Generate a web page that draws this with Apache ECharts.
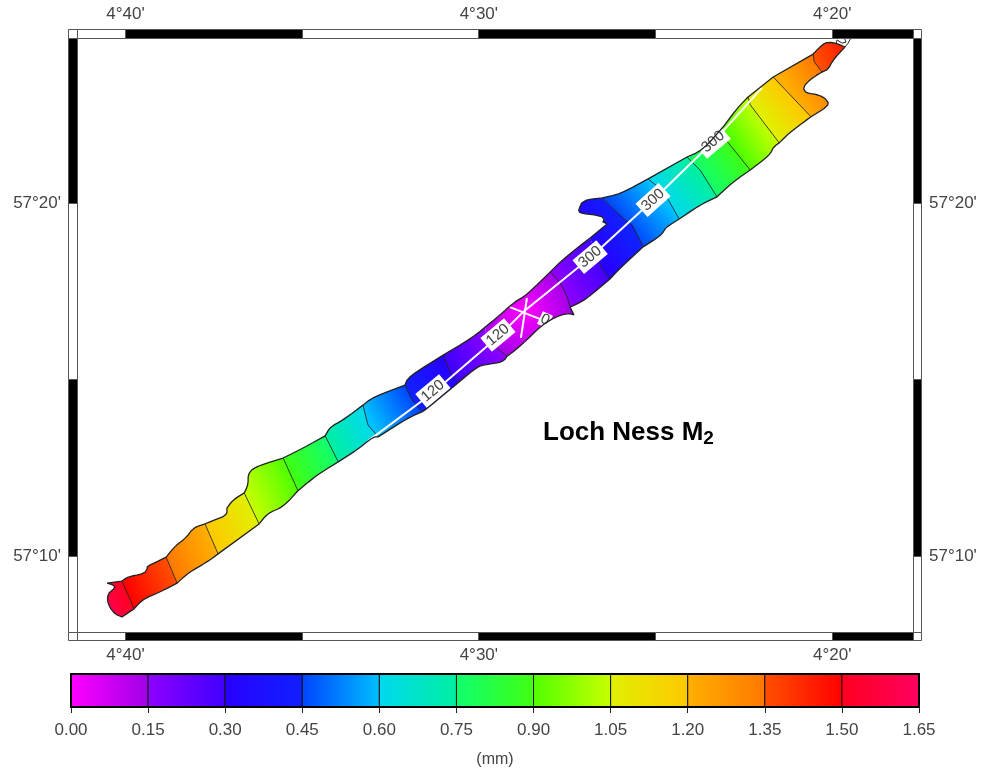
<!DOCTYPE html>
<html>
<head>
<meta charset="utf-8">
<style>html,body{margin:0;padding:0;background:#fff}#c{width:983px;height:774px}</style>
<script src="https://cdn.jsdelivr.net/npm/echarts@6/dist/echarts.min.js"></script>
</head>
<body>
<div id="c"></div>
<script>
// Longitude: minutes west of 4 deg + 240; latitude: minutes north of 57 deg
const lonRange = [257.714, 281.373];
const latRange = [7.844, 24.696];
const lonBreaks = [281.373, 280, 275, 270, 265, 260, 257.714];
const latBreaks = [7.844, 10, 15, 20, 24.696];
const lonTicks = [280, 270, 260];
const latTicks = [10, 20];

// Shore of the loch, south-west tip to north-east tip
const northBank = [[280.10,8.27],[280.35,8.38],[280.52,8.70],[280.49,8.95],[280.35,9.04],[280.27,9.15],[280.52,9.23],[280.10,9.29],[279.93,9.41],[279.53,9.49],[279.39,9.58],[279.39,9.72],[279.28,9.75],[278.85,9.97],[278.60,10.28],[278.26,10.54],[278.09,10.80],[277.75,10.91],[277.41,11.05],[277.13,11.16],[277.13,11.36],[276.96,11.59],[276.64,11.79],[276.53,12.02],[276.53,12.36],[276.28,12.55],[275.54,12.78],[274.98,13.06],[274.35,13.41],[274.21,13.66],[273.84,13.86],[273.28,14.28],[272.99,14.51],[272.09,14.85],[272.00,15.08],[271.01,15.70],[270.16,16.21],[269.82,16.50],[269.40,16.84],[269.03,17.18],[268.64,17.41],[267.98,18.06],[267.70,18.34],[267.22,18.74],[266.85,19.02],[266.37,19.42],[266.49,19.48],[266.43,19.59],[266.65,19.67],[267.19,19.73],[267.16,19.87],[267.05,20.10],[266.51,20.16],[266.00,20.27],[265.21,20.70],[264.11,21.32],[263.66,21.52],[263.09,22.17],[262.66,22.74],[262.38,23.02],[261.67,23.59],[260.54,24.24],[260.29,24.50],[260.15,24.58],[259.89,24.55],[259.64,24.44]];
const southBank = [[280.10,8.27],[279.76,8.50],[279.50,8.78],[279.02,8.98],[278.54,9.23],[278.23,9.52],[277.69,9.83],[277.38,10.06],[276.22,10.91],[275.97,11.22],[275.54,11.39],[275.12,11.85],[274.58,12.30],[273.98,12.67],[273.45,13.01],[272.99,13.38],[272.85,13.38],[272.00,13.92],[271.61,14.09],[271.44,14.20],[270.56,14.94],[270.05,15.36],[269.88,15.42],[269.32,15.50],[269.20,15.67],[269.03,15.79],[268.64,16.13],[268.27,16.50],[267.90,16.75],[267.50,16.89],[267.31,16.84],[267.42,17.06],[266.99,17.26],[266.29,17.86],[266.00,18.17],[265.35,18.77],[264.82,19.11],[264.73,19.31],[264.33,19.56],[263.74,19.96],[263.26,20.19],[262.81,20.61],[262.32,20.95],[261.76,21.38],[261.67,21.60],[261.50,21.72],[261.25,21.97],[260.85,22.28],[260.60,22.46],[260.15,22.74],[260.09,22.88],[260.34,23.08],[260.77,23.14],[260.83,23.31],[260.57,23.56],[260.29,23.73],[260.12,23.79],[259.98,24.07],[259.64,24.44]];
const sharpShorePoints = [[280.52,9.23],[277.13,11.36],[266.37,19.42],[266.49,19.48],[267.31,16.84]];
const tipShoreA = [[259.89,24.55],[259.86,24.64],[259.72,24.55],[259.61,24.58],[259.66,24.70]];
const tipShoreB = [[259.47,24.70],[259.55,24.55],[259.64,24.44]];

// Amplitude contours, bank to bank, with their levels in mm
const contourLevels = [1.50,1.35,1.20,1.05,0.90,0.75,0.60,0.45,0.30,0.15,0.15,0.30,0.45,0.60,0.75,0.90,1.05,1.20,1.35];
const contours = [
 [[280.10,9.29],[279.76,8.50]],
 [[278.85,9.97],[278.54,9.23]],
 [[277.75,10.91],[277.38,10.06]],
 [[276.64,11.79],[276.22,10.91]],
 [[275.54,12.78],[275.12,11.85]],
 [[274.35,13.41],[273.98,12.67]],
 [[273.28,14.28],[273.14,13.72],[272.85,13.38]],
 [[272.09,14.85],[271.89,14.43],[271.61,14.09]],
 [[271.01,15.70],[270.81,15.22],[270.56,14.94]],
 [[269.82,16.50],[269.77,16.13],[269.54,15.93],[269.20,15.67]],
 [[267.98,18.06],[267.70,17.75],[267.50,17.35],[267.42,17.06]],
 [[266.85,19.02],[266.60,18.34],[266.49,18.11],[266.29,17.86]],
 [[266.51,20.16],[265.92,19.59],[265.66,19.39],[265.35,18.77]],
 [[265.21,20.70],[264.79,20.36],[264.59,20.02],[264.33,19.56]],
 [[264.11,21.32],[263.74,20.95],[263.26,20.19]],
 [[263.09,22.17],[262.98,21.77],[262.32,20.95]],
 [[262.38,23.02],[262.32,22.80],[261.50,21.72]],
 [[261.67,23.59],[260.60,22.46]],
 [[260.54,24.24],[260.51,24.02],[260.29,23.73]]
];
const contourDrawFrom = [0,0,0,0,0,0,0,0,0,2,0,1,0,0,0,1,0,0,0];
const endAmpSW = 1.60;
const endAmpNE = 1.45;
const amphidrome = [268.69,16.92];

// Phase contours (white) and their labels
const phaseTrack = [[273.14,13.26],[271.30,14.63],[269.40,16.27],[268.75,16.92],[266.85,18.46],[265.07,20.10],[263.32,21.80],[261.99,23.28]];
const phaseCrossA = [[269.12,17.06],[268.21,16.70]];
const phaseCrossB = [[268.64,17.32],[268.81,16.19]];
const phaseLabelPos = [[271.30,14.68],[269.46,16.27],[266.85,18.48],[265.07,20.10],[263.37,21.75],[268.13,16.70]];
const phaseLabelText = ['120','120','300','300','300','0'];
const phaseLabelAngle = [40,40,40,42,40,-25];

// Colour scale: each 0.15 mm cell runs from a start to an end colour
const barTicks = [0,0.15,0.30,0.45,0.60,0.75,0.90,1.05,1.20,1.35,1.50,1.65];
const cellStart = ['#ff00ff','#9000ff','#2800ff','#0044ff','#00d8f0','#10ff70','#50ff00','#e0f000','#ffb000','#ff5000','#ff0020'];
const cellEnd   = ['#a000e8','#4000ff','#1020ff','#00c0ff','#00f0a0','#40ff10','#c8ff00','#ffc800','#ff7800','#ff0000','#ff0060'];

const hex = h => [1,3,5].map(i => parseInt(h.substr(i,2),16));
function cellColor(cell, amp) {
  const lo = barTicks[cell], t = Math.max(0, Math.min(1, (amp - lo) / 0.15));
  const a = hex(cellStart[cell]), b = hex(cellEnd[cell]);
  return 'rgb(' + a.map((v,k) => Math.round(v + (b[k]-v)*t)).join(',') + ')';
}
function ampStops(a, b) {
  const cell = Math.min(10, Math.floor((Math.min(a,b) + 1e-6) / 0.15));
  return [0,0.25,0.5,0.75,1].map(o => ({offset:o, color:cellColor(cell, a + (b-a)*o)}));
}
function nearest(list, p) {
  let best = 0, d = 1e9;
  list.forEach((q,i) => { const e = Math.hypot(q[0]-p[0], q[1]-p[1]); if (e < d) { d = e; best = i; } });
  return best;
}
// Rounds the drawn corners of a stretch of shore; its two end points stay put
function roundCorners(pts) {
  let out = pts;
  for (let it = 0; it < 2 && out.length > 2; it++) {
    const next = [out[0]];
    for (let i = 0; i < out.length-1; i++) {
      const a = out[i], b = out[i+1];
      if (i > 0) next.push([a[0]*0.75+b[0]*0.25, a[1]*0.75+b[1]*0.25]);
      if (i < out.length-2) next.push([a[0]*0.25+b[0]*0.75, a[1]*0.25+b[1]*0.75]);
    }
    next.push(out[out.length-1]);
    out = next;
  }
  return out;
}
function bankPieces(bank, contourIdx) {
  const sharp = sharpShorePoints.map(p => nearest(bank, p)).filter(i => Math.hypot(bank[i][0]-0,bank[i][1]-0) && sharpShorePoints.some(p => p[0]===bank[i][0] && p[1]===bank[i][1]));
  const edges = [0, ...contourIdx, bank.length-1];
  const pieces = [];
  for (let e = 0; e < edges.length-1; e++) {
    const breaks = [edges[e], ...sharp.filter(i => i > edges[e] && i < edges[e+1]).sort((x,y) => x-y), edges[e+1]];
    let piece = [];
    for (let b = 0; b < breaks.length-1; b++) {
      const part = roundCorners(bank.slice(breaks[b], breaks[b+1]+1));
      piece = piece.concat(b ? part.slice(1) : part);
    }
    pieces.push(piece);
  }
  return pieces;
}
const contourN = contours.map(c => nearest(northBank, c[0]));
const contourS = contours.map(c => nearest(southBank, c[c.length-1]));
const northPieces = bankPieces(northBank, contourN);
const southPieces = bankPieces(southBank, contourS);
const bandCount = contours.length + 1;
const shoreLine = northPieces.flat().concat(southPieces.flat().reverse());

function bandPoints(i) {
  const pts = northPieces[i].slice();
  if (i < contours.length) contours[i].forEach(p => pts.push(p));
  southPieces[i].slice().reverse().forEach(p => pts.push(p));
  if (i > 0) contours[i-1].slice().reverse().forEach(p => pts.push(p));
  return pts;
}

function renderBand(params, api) {
  const i = params.dataIndex;
  const pts = bandPoints(i).map(p => api.coord(p));
  let fill;
  if (i === 10) {
    const c = api.coord(amphidrome), e = api.coord(contours[10][0]);
    fill = new echarts.graphic.RadialGradient(c[0], c[1], Math.hypot(e[0]-c[0], e[1]-c[1]), ampStops(0,0.15), true);
  } else {
    const ca = contours[Math.max(0,i-1)].map(p => api.coord(p));
    const cb = contours[Math.min(contours.length-1,i)].map(p => api.coord(p));
    const tan = c => { const a=c[0], b=c[c.length-1], l=Math.hypot(b[0]-a[0],b[1]-a[1]); return [(b[0]-a[0])/l,(b[1]-a[1])/l]; };
    const mid = c => { const a=c[0], b=c[c.length-1]; return [(a[0]+b[0])/2,(a[1]+b[1])/2]; };
    const ta = tan(ca), tb = tan(cb);
    let n = [-(ta[1]+tb[1]), ta[0]+tb[0]];
    const l = Math.hypot(n[0], n[1]); n = [n[0]/l, n[1]/l];
    let p0, dist, a, b;
    if (i === 0 || i === contours.length) {
      p0 = mid(i === 0 ? cb : ca);
      let far = 0;
      pts.forEach(q => { const d = (q[0]-p0[0])*n[0] + (q[1]-p0[1])*n[1]; if (Math.abs(d) > Math.abs(far)) far = d; });
      dist = far;
      a = i === 0 ? contourLevels[0] : contourLevels[contourLevels.length-1];
      b = i === 0 ? endAmpSW : endAmpNE;
    } else {
      p0 = mid(ca);
      const pb = mid(cb);
      dist = (pb[0]-p0[0])*n[0] + (pb[1]-p0[1])*n[1];
      a = contourLevels[i-1]; b = contourLevels[i];
    }
    fill = new echarts.graphic.LinearGradient(p0[0], p0[1], p0[0]+n[0]*dist, p0[1]+n[1]*dist, ampStops(a,b), true);
  }
  return {type:'polygon', shape:{points:pts}, style:{fill:fill, stroke:null}};
}

const FRAME_STROKE = '#555';
function renderLonStrip(params, api) {
  const i = params.dataIndex, g = params.coordSys;
  const x0 = Math.floor(api.coord([lonBreaks[i], latBreaks[0]])[0]) + 0.5;
  const x1 = Math.floor(api.coord([lonBreaks[i+1], latBreaks[0]])[0]) + 0.5;
  const fill = i % 2 === 0 ? '#fff' : '#000';
  const st = {fill:fill, stroke:FRAME_STROKE, lineWidth:1};
  return {type:'group', children:[
    {type:'rect', shape:{x:x0, y:g.y-9+0.5, width:x1-x0, height:9}, style:st},
    {type:'rect', shape:{x:x0, y:g.y+g.height+0.5, width:x1-x0, height:8}, style:st}
  ]};
}
function renderLatStrip(params, api) {
  const i = params.dataIndex, g = params.coordSys;
  const y0 = Math.floor(api.coord([lonBreaks[0], latBreaks[i]])[1]) + 0.5;
  const y1 = Math.floor(api.coord([lonBreaks[0], latBreaks[i+1]])[1]) + 0.5;
  const fill = i % 2 === 0 ? '#fff' : '#000';
  const st = {fill:fill, stroke:FRAME_STROKE, lineWidth:1};
  return {type:'group', children:[
    {type:'rect', shape:{x:g.x-9+0.5, y:y1, width:9, height:y0-y1}, style:st},
    {type:'rect', shape:{x:g.x+g.width+0.5, y:y1, width:8, height:y0-y1}, style:st}
  ]};
}
function renderCorners(params) {
  const g = params.coordSys;
  const st = {fill:'#fff', stroke:FRAME_STROKE, lineWidth:1};
  const xs = [[g.x-9+0.5,9],[g.x+g.width+0.5,8]], ys = [[g.y-9+0.5,9],[g.y+g.height+0.5,8]];
  const kids = [];
  xs.forEach(x => ys.forEach(y => kids.push({type:'rect', shape:{x:x[0],y:y[0],width:x[1],height:y[1]}, style:st})));
  return {type:'group', children:kids};
}
function renderPhaseLabel(params, api) {
  const i = params.dataIndex, p = api.coord(phaseLabelPos[i]);
  const t = phaseLabelText[i], w = t.length > 1 ? 31 : 11, h = t.length > 1 ? 18 : 14;
  return {type:'group', x:p[0], y:p[1], rotation:phaseLabelAngle[i]*Math.PI/180, children:[
    {type:'rect', shape:{x:-w/2, y:-h/2, width:w, height:h}, style:{fill:'#fff'}},
    {type:'text', style:{x:0, y:0, text:t, align:'center', verticalAlign:'middle', fill:'#444',
      font:'15px "Liberation Sans"'}}
  ]};
}
function renderBarCell(params, api) {
  const i = params.dataIndex;
  const a = api.coord([barTicks[i], 0]), b = api.coord([barTicks[i+1], 1]);
  return {type:'rect', shape:{x:a[0], y:b[1], width:b[0]-a[0], height:a[1]-b[1]},
    style:{fill:new echarts.graphic.LinearGradient(0,0,1,0,[{offset:0,color:cellStart[i]},{offset:1,color:cellEnd[i]}]),
      stroke:'#111', lineWidth:1}};
}
function renderBarBorder(params, api) {
  const a = api.coord([barTicks[0], 0]), b = api.coord([barTicks[barTicks.length-1], 1]);
  return {type:'rect', shape:{x:a[0], y:b[1], width:b[0]-a[0], height:a[1]-b[1]},
    style:{fill:'none', stroke:'#000', lineWidth:2}};
}

const labelColor = '#444', labelFont = 'Liberation Sans', labelSize = 17;
const lonFmt = v => { const m = Math.round(v); return Math.floor(m/60) + '\u00b0' + (m%60) + "'"; };
const latFmt = v => '57\u00b0' + Math.round(v) + "'";
const mapLine = (name, data, color, width, z) => ({
  type:'line', name, data, xAxisIndex:0, yAxisIndex:0, symbol:'none', silent:true, z,
  clip:false, lineStyle:{color, width}, animation:false
});
const indices = n => Array.from({length:n}, (_,i) => [i]);
const mapCustom = (name, n, renderItem, z) => ({
  type:'custom', name, xAxisIndex:0, yAxisIndex:0, data:indices(n), renderItem, silent:true, z, clip:false,
  encode:{x:[], y:[]}
});
const lonAxis = (pos, margin) => ({
  type:'value', gridIndex:0, position:pos, inverse:true, min:lonRange[0], max:lonRange[1],
  axisLine:{show:false}, axisTick:{show:false}, splitLine:{show:false},
  axisLabel:{customValues:lonTicks, formatter:lonFmt, color:labelColor, fontFamily:labelFont, fontSize:labelSize, margin}
});
const latAxis = (pos, margin) => ({
  type:'value', gridIndex:0, position:pos, min:latRange[0], max:latRange[1],
  axisLine:{show:false}, axisTick:{show:false}, splitLine:{show:false},
  axisLabel:{customValues:latTicks, formatter:latFmt, color:labelColor, fontFamily:labelFont, fontSize:labelSize, margin, padding:[3,0,0,0]}
});

const chart = echarts.init(document.getElementById('c'));
chart.setOption({
  animation:false,
  backgroundColor:'#fff',
  title:{
    left:538, top:413,
    text:'{b|Loch Ness M}{s|2}',
    textStyle:{rich:{
      b:{fontFamily:labelFont, fontWeight:'bold', fontSize:26, color:'#000', lineHeight:30},
      s:{fontFamily:labelFont, fontWeight:'bold', fontSize:19, color:'#000', lineHeight:30, verticalAlign:'bottom', padding:[14,0,0,0]}
    }}
  },
  grid:[
    {left:77, top:38, width:836, height:594},
    {left:71, top:674, width:848, height:33}
  ],
  xAxis:[
    lonAxis('bottom', 15),
    lonAxis('top', 15),
    {type:'value', gridIndex:1, position:'bottom', min:0, max:1.65, interval:0.15,
      name:'(mm)', nameLocation:'middle', nameGap:45,
      nameTextStyle:{color:labelColor, fontFamily:labelFont, fontSize:16},
      axisLine:{show:false}, splitLine:{show:false},
      axisTick:{show:true, length:6, lineStyle:{color:'#222'}},
      axisLabel:{formatter:v => v.toFixed(2), color:labelColor, fontFamily:labelFont, fontSize:labelSize, margin:15}}
  ],
  yAxis:[
    latAxis('left', 16),
    latAxis('right', 16),
    {type:'value', gridIndex:1, min:0, max:1, show:false}
  ],
  series:[
    mapCustom('bands', bandCount, renderBand, 2),
    ...contours.map((c,i) => mapLine('contour'+i, c.slice(contourDrawFrom[i]), 'rgba(20,20,20,0.8)', 1, 3)),
    mapLine('track', phaseTrack, '#fff', 2, 4),
    mapLine('crossA', phaseCrossA, '#fff', 2, 4),
    mapLine('crossB', phaseCrossB, '#fff', 2, 4),
    mapCustom('phaseLabels', phaseLabelText.length, renderPhaseLabel, 5),
    mapLine('shore', shoreLine, '#222', 1.3, 6),
    mapLine('tipA', tipShoreA, '#222', 1, 6),
    mapLine('tipB', tipShoreB, '#222', 1, 6),
    mapCustom('frameLon', lonBreaks.length-1, renderLonStrip, 7),
    mapCustom('frameLat', latBreaks.length-1, renderLatStrip, 7),
    mapCustom('frameCorners', 1, renderCorners, 8),
    {type:'custom', name:'barCells', xAxisIndex:2, yAxisIndex:2, data:indices(barTicks.length-1), renderItem:renderBarCell, silent:true, z:2, encode:{x:[],y:[]}},
    {type:'custom', name:'barBorder', xAxisIndex:2, yAxisIndex:2, data:indices(1), renderItem:renderBarBorder, silent:true, z:3, encode:{x:[],y:[]}}
  ]
});
</script>
</body>
</html>
